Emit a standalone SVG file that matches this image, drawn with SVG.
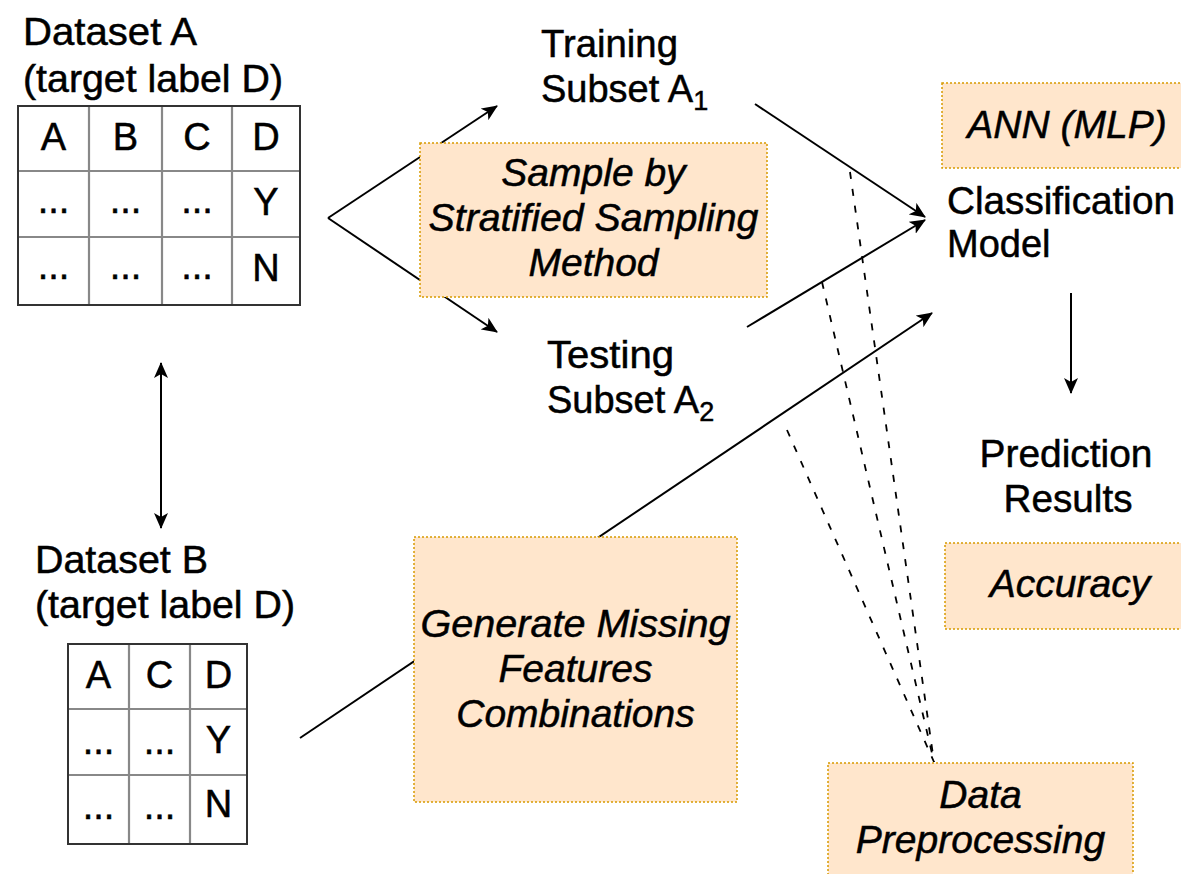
<svg xmlns="http://www.w3.org/2000/svg" width="1181" height="874" viewBox="0 0 1181 874">
<style>
.t{font-family:"Liberation Sans",Arial,Helvetica,sans-serif;font-size:38px;fill:#000;stroke:#000;stroke-width:0.5}
.c{text-anchor:middle}
.i{font-family:"Liberation Sans",Arial,Helvetica,sans-serif;font-size:39px;font-style:italic;fill:#000;stroke:#000;stroke-width:0.5;text-anchor:middle}
.sub{font-size:27px}
.box{fill:#ffe6cc;stroke:#d79b00;stroke-width:1.5;stroke-dasharray:2 2}
.outer{fill:#fff;stroke:#333;stroke-width:2}
.inner{stroke:#888;stroke-width:2.2;fill:none}
.ln{stroke:#000;stroke-width:2;fill:none}
.arr{marker-end:url(#ah)}
.dash{stroke:#000;stroke-width:1.8;fill:none;stroke-dasharray:7 10}
</style>
<defs>
<marker id="ah" viewBox="0 0 16 14" refX="15" refY="7" markerWidth="16" markerHeight="14" markerUnits="userSpaceOnUse" orient="auto-start-reverse">
<path d="M0,0 L16,7 L0,14 L4,7 Z" fill="#000"/>
</marker>
</defs>
<rect width="1181" height="874" fill="#fff"/>

<g id="connectors">
<line class="ln arr" x1="328" y1="218" x2="497" y2="106"/>
<line class="ln arr" x1="328" y1="218" x2="497" y2="332"/>
<line class="ln arr" x1="755" y1="104" x2="925" y2="217"/>
<line class="ln arr" x1="747" y1="327" x2="925" y2="220"/>
<line class="ln arr" x1="300" y1="738" x2="932" y2="313"/>
<line class="ln arr" x1="1071" y1="293" x2="1071" y2="393"/>
<line class="ln" x1="161" y1="363" x2="161" y2="528" marker-start="url(#ah)" marker-end="url(#ah)"/>
<line class="dash" x1="850" y1="172" x2="934" y2="762"/>
<line class="dash" x1="822" y1="282" x2="934" y2="762"/>
<line class="dash" x1="787" y1="430" x2="934" y2="762"/>
</g>

<g id="datasetA">
<text class="t" x="23" y="45" textLength="174" lengthAdjust="spacingAndGlyphs">Dataset A</text>
<text class="t" x="23" y="92" textLength="260" lengthAdjust="spacingAndGlyphs">(target label D)</text>
<rect class="outer" x="18" y="106" width="282" height="199"/>
<path class="inner" d="M89,106 V305 M162,106 V305 M232,106 V305 M18,171 H300 M18,237 H300"/>
<rect x="18" y="106" width="282" height="199" fill="none" stroke="#333" stroke-width="2"/>
<text class="t c" x="53.5" y="150">A</text>
<text class="t c" x="125.5" y="150">B</text>
<text class="t c" x="197" y="150">C</text>
<text class="t c" x="266" y="150">D</text>
<text class="t c" x="53.5" y="213">...</text>
<text class="t c" x="125.5" y="213">...</text>
<text class="t c" x="197" y="213">...</text>
<text class="t c" x="266" y="215">Y</text>
<text class="t c" x="53.5" y="279">...</text>
<text class="t c" x="125.5" y="279">...</text>
<text class="t c" x="197" y="279">...</text>
<text class="t c" x="266" y="281">N</text>
</g>

<g id="datasetB">
<text class="t" x="35" y="573" textLength="173" lengthAdjust="spacingAndGlyphs">Dataset B</text>
<text class="t" x="35" y="618" textLength="260" lengthAdjust="spacingAndGlyphs">(target label D)</text>
<rect class="outer" x="68" y="644" width="179" height="200"/>
<path class="inner" d="M129,644 V844 M190,644 V844 M68,709 H247 M68,775 H247"/>
<rect x="68" y="644" width="179" height="200" fill="none" stroke="#333" stroke-width="2"/>
<text class="t c" x="98.5" y="688">A</text>
<text class="t c" x="159.5" y="688">C</text>
<text class="t c" x="218.5" y="688">D</text>
<text class="t c" x="98.5" y="754">...</text>
<text class="t c" x="159.5" y="754">...</text>
<text class="t c" x="218.5" y="753">Y</text>
<text class="t c" x="98.5" y="819">...</text>
<text class="t c" x="159.5" y="819">...</text>
<text class="t c" x="218.5" y="817">N</text>
</g>

<g id="sample">
<rect class="box" x="420" y="143" width="347" height="154"/>
<text class="i" x="593.5" y="186">Sample by</text>
<text class="i" x="593.5" y="231" textLength="330" lengthAdjust="spacingAndGlyphs">Stratified Sampling</text>
<text class="i" x="593.5" y="276">Method</text>
</g>

<g id="training">
<text class="t" x="541" y="57" textLength="137" lengthAdjust="spacingAndGlyphs">Training</text>
<text class="t" x="541" y="102">Subset A<tspan class="sub" dy="8">1</tspan></text>
</g>

<g id="testing">
<text class="t" x="547" y="368" textLength="127" lengthAdjust="spacingAndGlyphs">Testing</text>
<text class="t" x="547" y="413">Subset A<tspan class="sub" dy="8">2</tspan></text>
</g>

<g id="ann">
<rect class="box" x="942" y="83" width="250" height="85"/>
<text class="i" x="1067" y="138">ANN (MLP)</text>
</g>

<g id="classification">
<text class="t" x="947" y="214" textLength="228" lengthAdjust="spacingAndGlyphs">Classification</text>
<text class="t" x="947" y="257">Model</text>
</g>

<g id="prediction">
<text class="t c" x="1066" y="467" textLength="173" lengthAdjust="spacingAndGlyphs">Prediction</text>
<text class="t c" x="1068" y="512" textLength="129" lengthAdjust="spacingAndGlyphs">Results</text>
</g>

<g id="accuracy">
<rect class="box" x="945" y="543" width="250" height="86"/>
<text class="i" x="1070" y="597">Accuracy</text>
</g>

<g id="generate">
<rect class="box" x="414" y="537" width="323" height="265"/>
<text class="i" x="575.5" y="637" textLength="310" lengthAdjust="spacingAndGlyphs">Generate Missing</text>
<text class="i" x="575.5" y="682">Features</text>
<text class="i" x="575.5" y="727">Combinations</text>
</g>

<g id="preprocessing">
<rect class="box" x="828" y="763" width="305" height="125"/>
<text class="i" x="980.5" y="808">Data</text>
<text class="i" x="980.5" y="853">Preprocessing</text>
</g>
</svg>
